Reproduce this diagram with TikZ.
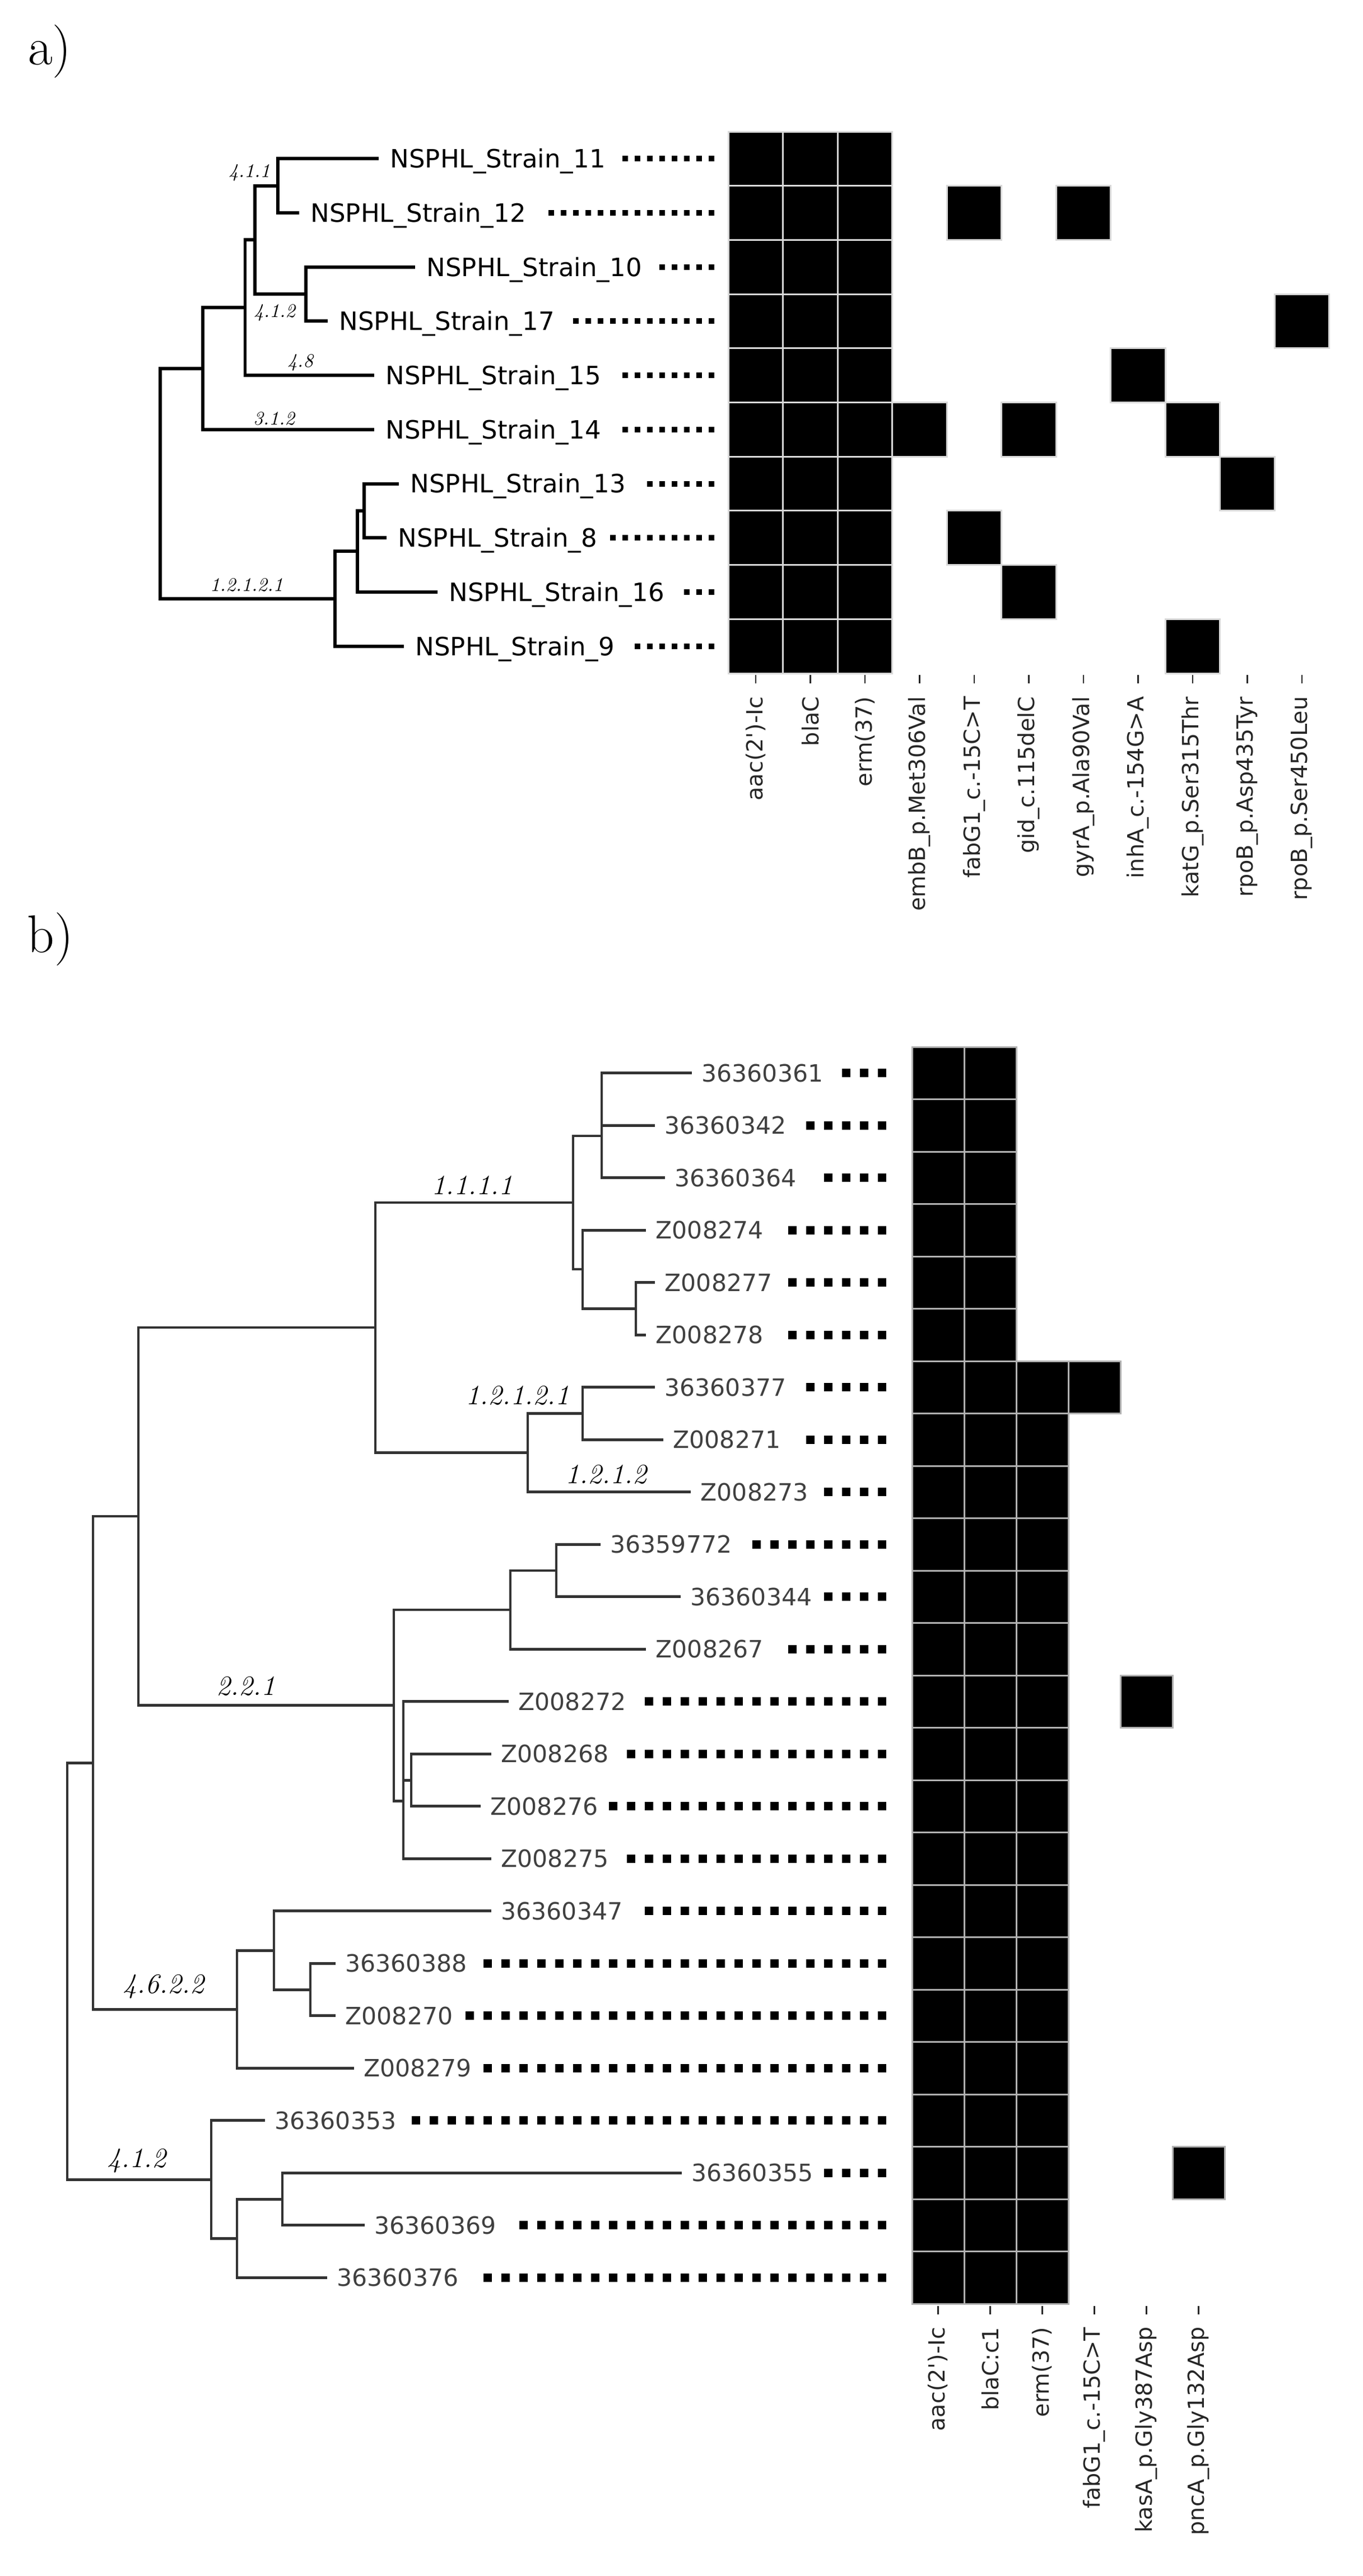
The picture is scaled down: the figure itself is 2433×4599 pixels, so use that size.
\documentclass[tikz,border=0pt]{standalone}
\usepackage{fontspec}
\newfontfamily\dejavu[Ligatures=TeXOff]{DejaVu Sans}
\usetikzlibrary{positioning,calc}

\begin{document}
\begin{tikzpicture}[x=0.01cm,y=-0.01cm]

\tikzset{
  brancha/.style={line width=1.7pt, black},
  branchb/.style={line width=1.4pt, black!80},
  leafa/.style={anchor=west, inner xsep=0.2cm, inner ysep=0pt, text height=9.3pt, text depth=0pt,
    font=\dejavu\fontsize{12.8}{15}\selectfont},
  leafb/.style={anchor=west, inner xsep=0.17cm, inner ysep=0pt, text height=8.8pt, text depth=0pt,
    text=black!75, font=\dejavu\fontsize{12.1}{15}\selectfont},
  cladea/.style={inner sep=0pt, font=\itshape\fontsize{9.8}{12}\selectfont},
  cladeb/.style={inner sep=0pt, font=\itshape\fontsize{14.2}{17}\selectfont},
  dotsa/.style={line width=0.1cm, dash pattern=on 0.1cm off 0.12cm},
  dotsb/.style={line width=0.15cm, dash pattern=on 0.15cm off 0.17cm},
  cella/.style={fill=black, draw=white!85!black, line width=0.03cm},
  cellb/.style={fill=black, draw=white!70!black, line width=0.03cm},
  gene/.style={rotate=90, anchor=east, inner sep=0pt, text=black!85,
    font=\dejavu\fontsize{11.3}{13}\selectfont},
  gtick/.style={line width=0.025cm, black!85},
  panel/.style={inner sep=0pt, font=\fontsize{27}{30}\selectfont}
}

\fill[white] (0,0) rectangle (2433,4599);
\useasboundingbox (0,0) rectangle (2433,4599);

% ---------------- a) ----------------
\node[panel] (pa) at (89,92) {a)};

\node[leafa] (s11) at (676,283.35) {NSPHL\_Strain\_11};
\node[leafa] (s12) at (534,380.05) {NSPHL\_Strain\_12};
\node[leafa] (s10) at (741,476.75) {NSPHL\_Strain\_10};
\node[leafa] (s17) at (585,573.45) {NSPHL\_Strain\_17};
\node[leafa] (s15) at (668,670.15) {NSPHL\_Strain\_15};
\node[leafa] (s14) at (668,766.85) {NSPHL\_Strain\_14};
\node[leafa] (s13) at (712,863.55) {NSPHL\_Strain\_13};
\node[leafa] (s8) at (690,960.25) {NSPHL\_Strain\_8};
\node[leafa] (s16) at (781,1056.95) {NSPHL\_Strain\_16};
\node[leafa] (s9) at (721,1153.65) {NSPHL\_Strain\_9};

\coordinate (n411) at (496,331.7);
\coordinate (n412) at (546,525.1);
\coordinate (na) at (455,428.4);
\coordinate (nb) at (437.5,549.3);
\coordinate (nc) at (362,658.1);
\coordinate (nd) at (650,911.9);
\coordinate (ne) at (638,984.4);
\coordinate (nf) at (598,1069);
\coordinate (ra) at (286,863.6);

\draw[brancha] (n411) |- (s11.west) (n411) |- (s12.west)
  (n412) |- (s10.west) (n412) |- (s17.west)
  (na) |- (n411) (na) |- (n412)
  (nb) |- (na) (nb) |- (s15.west)
  (nc) |- (nb) (nc) |- (s14.west)
  (nd) |- (s13.west) (nd) |- (s8.west)
  (ne) |- (nd) (ne) |- (s16.west)
  (nf) |- (ne) (nf) |- (s9.west)
  (ra) |- (nc) (ra) |- (nf);

\node[cladea] (k411) at (445,308) {4.1.1};
\node[cladea] (k412) at (490,558) {4.1.2};
\node[cladea] (k48) at (536,647) {4.8};
\node[cladea] (k312) at (489,747) {3.1.2};
\node[cladea] (k12121) at (440,1044) {1.2.1.2.1};

\coordinate (ea) at (1275,0);
\foreach \s in {s11,s12,s10,s17,s15,s14,s13,s8,s16,s9}
  \draw[dotsa] let \p1=(\s.east), \p2=(ea |- \s),
    \n1={floor((\x2-\x1+0.12cm)/0.22cm)} in (\p2) -- ++({-(\n1*0.22cm-0.12cm)},0);

\foreach \r in {1,...,10}
  \foreach \c in {1,2,3}
    \path[cella] ({1300+97.5*(\c-1)},{235+96.7*(\r-1)}) rectangle +(97.5,96.7);
\foreach \r/\c in {2/5,2/7,4/11,5/8,6/4,6/6,6/9,7/10,8/5,9/6,10/9}
  \path[cella] ({1300+97.5*(\c-1)},{235+96.7*(\r-1)}) rectangle +(97.5,96.7);

\foreach \g [count=\j] in {{aac(2')-Ic},{blaC},{erm(37)},{embB\_p.Met306Val},
    {fabG1\_c.-15C>T},{gid\_c.115delC},{gyrA\_p.Ala90Val},{inhA\_c.-154G>A},
    {katG\_p.Ser315Thr},{rpoB\_p.Asp435Tyr},{rpoB\_p.Ser450Leu}} {
  \draw[gtick] ({1300+97.5*(\j-0.5)},1205) -- ++(0,15);
  \node[gene] (ga\j) at ({1300+97.5*(\j-0.5)},1243) {\g};
}

% ---------------- b) ----------------
\node[panel] (pb) at (90,1677) {b)};

\node[leafb] (b1) at (1235,1915.75) {36360361};
\node[leafb] (b2) at (1169,2009.25) {36360342};
\node[leafb] (b3) at (1187,2102.75) {36360364};
\node[leafb] (b4) at (1153,2196.25) {Z008274};
\node[leafb] (b5) at (1169,2289.75) {Z008277};
\node[leafb] (b6) at (1153,2383.25) {Z008278};
\node[leafb] (b7) at (1169,2476.75) {36360377};
\node[leafb] (b8) at (1184,2570.25) {Z008271};
\node[leafb] (b9) at (1233,2663.75) {Z008273};
\node[leafb] (b10) at (1072,2757.25) {36359772};
\node[leafb] (b11) at (1215,2850.75) {36360344};
\node[leafb] (b12) at (1153,2944.25) {Z008267};
\node[leafb] (b13) at (908,3037.75) {Z008272};
\node[leafb] (b14) at (877,3131.25) {Z008268};
\node[leafb] (b15) at (858,3224.75) {Z008276};
\node[leafb] (b16) at (877,3318.25) {Z008275};
\node[leafb] (b17) at (877,3411.75) {36360347};
\node[leafb] (b18) at (599,3505.25) {36360388};
\node[leafb] (b19) at (599,3598.75) {Z008270};
\node[leafb] (b20) at (632,3692.25) {Z008279};
\node[leafb] (b21) at (473,3785.75) {36360353};
\node[leafb] (b22) at (1217,3879.25) {36360355};
\node[leafb] (b23) at (651,3972.75) {36360369};
\node[leafb] (b24) at (584,4066.25) {36360376};

\coordinate (m1) at (1074,2028);
\coordinate (m2) at (1135,2336.5);
\coordinate (m3) at (1040,2266);
\coordinate (m4) at (1023,2147);
\coordinate (m6) at (1040,2523.5);
\coordinate (m7) at (942,2593.6);
\coordinate (m8) at (670,2370);
\coordinate (m9) at (993,2804);
\coordinate (m10) at (911,2874);
\coordinate (m11) at (734,3178);
\coordinate (m12) at (720,3215);
\coordinate (m13) at (703,3044.5);
\coordinate (m14) at (247,2707);
\coordinate (m15) at (554,3552);
\coordinate (m16) at (489,3482);
\coordinate (m17) at (423,3587);
\coordinate (m18) at (166,3147);
\coordinate (m19) at (504,3926);
\coordinate (m20) at (423,3996);
\coordinate (m21) at (377,3891);
\coordinate (rb) at (120,3519);

\draw[branchb] (m1) |- (b1.west) (m1) |- (b2.west) (m1) |- (b3.west)
  (m2) |- (b5.west) (m2) |- (b6.west)
  (m3) |- (b4.west) (m3) |- (m2)
  (m4) |- (m1) (m4) |- (m3)
  (m6) |- (b7.west) (m6) |- (b8.west)
  (m7) |- (m6) (m7) |- (b9.west)
  (m8) |- (m4) (m8) |- (m7)
  (m9) |- (b10.west) (m9) |- (b11.west)
  (m10) |- (m9) (m10) |- (b12.west)
  (m11) |- (b14.west) (m11) |- (b15.west)
  (m12) |- (b13.west) (m12) |- (m11) (m12) |- (b16.west)
  (m13) |- (m10) (m13) |- (m12)
  (m14) |- (m8) (m14) |- (m13)
  (m15) |- (b18.west) (m15) |- (b19.west)
  (m16) |- (b17.west) (m16) |- (m15)
  (m17) |- (m16) (m17) |- (b20.west)
  (m18) |- (m14) (m18) |- (m17)
  (m19) |- (b22.west) (m19) |- (b23.west)
  (m20) |- (m19) (m20) |- (b24.west)
  (m21) |- (b21.west) (m21) |- (m20)
  (rb) |- (m18) (rb) |- (m21);

\node[cladeb] (c1111) at (843,2116) {1.1.1.1};
\node[cladeb] (c12121) at (924,2491) {1.2.1.2.1};
\node[cladeb] (c1212) at (1082,2632) {1.2.1.2};
\node[cladeb] (c221) at (439,3010) {2.2.1};
\node[cladeb] (c4622) at (292,3547) {4.6.2.2};
\node[cladeb] (c412) at (244,3858) {4.1.2};

\coordinate (eb) at (1582,0);
\foreach \s in {b1,b2,b3,b4,b5,b6,b7,b8,b9,b10,b11,b12,b13,b14,b15,b16,b17,b18,b19,b20,b21,b22,b23,b24}
  \draw[dotsb] let \p1=(\s.east), \p2=(eb |- \s),
    \n1={floor((\x2-\x1+0.17cm)/0.32cm)} in (\p2) -- ++({-(\n1*0.32cm-0.17cm)},0);

\foreach \r in {1,...,24}
  \foreach \c in {1,2}
    \path[cellb] ({1628+93*(\c-1)},{1869+93.5*(\r-1)}) rectangle +(93,93.5);
\foreach \r in {7,...,24}
  \path[cellb] ({1628+93*2},{1869+93.5*(\r-1)}) rectangle +(93,93.5);
\foreach \r/\c in {7/4,13/5,22/6}
  \path[cellb] ({1628+93*(\c-1)},{1869+93.5*(\r-1)}) rectangle +(93,93.5);

\foreach \g [count=\j] in {{aac(2')-Ic},{blaC:c1},{erm(37)},{fabG1\_c.-15C>T},
    {kasA\_p.Gly387Asp},{pncA\_p.Gly132Asp}} {
  \draw[gtick] ({1628+93*(\j-0.5)},4117) -- ++(0,15);
  \node[gene] (gb\j) at ({1628+93*(\j-0.5)},4154) {\g};
}

\end{tikzpicture}
\end{document}
